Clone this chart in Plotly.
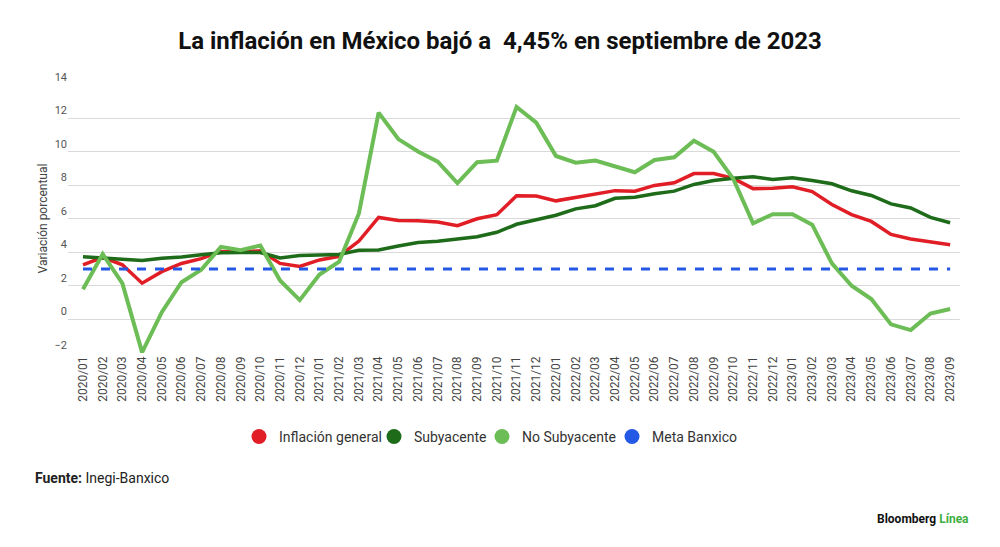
import plotly.graph_objs as go

# meses del periodo 2020/01 - 2023/09
meses = ['%d/%02d' % (a, m) for a in range(2020, 2024) for m in range(1, 13)][:45]

# inflación anual (%)
general = [3.24, 3.70, 3.25, 2.15, 2.84, 3.33, 3.62, 4.05, 4.01, 4.09, 3.33, 3.15,
           3.54, 3.76, 4.67, 6.08, 5.89, 5.88, 5.81, 5.59, 6.00, 6.24, 7.37, 7.36,
           7.07, 7.28, 7.45, 7.68, 7.65, 7.99, 8.15, 8.70, 8.70, 8.41, 7.80, 7.82,
           7.91, 7.62, 6.85, 6.25, 5.84, 5.06, 4.79, 4.64, 4.45]

subyacente = [3.73, 3.66, 3.60, 3.50, 3.64, 3.71, 3.85, 3.97, 3.99, 3.98, 3.66, 3.80,
              3.84, 3.87, 4.12, 4.13, 4.37, 4.58, 4.66, 4.78, 4.92, 5.19, 5.67, 5.94,
              6.21, 6.59, 6.78, 7.22, 7.28, 7.49, 7.65, 8.05, 8.28, 8.42, 8.51, 8.35,
              8.45, 8.29, 8.09, 7.67, 7.39, 6.89, 6.64, 6.08, 5.76]

no_subyacente = [1.79, 3.89, 2.14, -1.98, 0.42, 2.21, 2.95, 4.32, 4.12, 4.40, 2.31, 1.14,
                 2.67, 3.44, 6.32, 12.34, 10.76, 10.02, 9.41, 8.13, 9.38, 9.47, 12.68, 11.74,
                 9.75, 9.35, 9.48, 9.12, 8.78, 9.51, 9.67, 10.66, 10.00, 8.38, 5.73, 6.27,
                 6.27, 5.65, 3.33, 2.00, 1.20, -0.31, -0.65, 0.34, 0.61]

meta_banxico = [3.0] * len(meses)

series = [
    ('Inflación general', general, '#e11d25', 3.5, 'solid'),
    ('Subyacente', subyacente, '#1e6b1a', 3.5, 'solid'),
    ('No Subyacente', no_subyacente, '#6cbd55', 4, 'solid'),
    ('Meta Banxico', meta_banxico, '#2459e6', 3, 'dash'),
]

# posición (en px) del círculo de cada entrada de la leyenda
leyenda_px = [259, 394, 502, 632]

fig = go.Figure()

# líneas
for nombre, valores, color, ancho, estilo in series:
    fig.add_trace(go.Scatter(x=meses, y=valores, mode='lines', name=nombre,
                             line=dict(color=color, width=ancho, dash=estilo),
                             showlegend=False))

# leyenda con círculos, una leyenda por entrada para controlar el espaciado
leyendas = {}
for i, (nombre, valores, color, ancho, estilo) in enumerate(series):
    ley = 'legend' if i == 0 else 'legend%d' % (i + 1)
    fig.add_trace(go.Scatter(x=[None], y=[None], mode='markers', name=nombre,
                             marker=dict(color=color, size=15, symbol='circle'),
                             legend=ley))
    leyendas[ley] = dict(orientation='h', x=(leyenda_px[i] - 20 - 68) / 892.0,
                         xanchor='left', y=-0.312, yanchor='middle',
                         font=dict(size=14, color='#333333'), itemwidth=30,
                         bgcolor='rgba(0,0,0,0)')

fig.update_layout(
    width=1000, height=547,
    paper_bgcolor='white', plot_bgcolor='white',
    margin=dict(l=68, r=40, t=84, b=194),
    font=dict(family='Roboto, Liberation Sans, sans-serif', color='#333333'),
    title=dict(text='<b>La inflación en México bajó a  4,45% en septiembre de 2023</b>',
               x=0.5, xanchor='center', y=0.925, yanchor='middle',
               font=dict(size=24, color='#111111')),
    xaxis=dict(type='category', range=[-0.76, 44.5], tickangle=-90,
               showgrid=False, showline=False, ticks='', zeroline=False,
               tickfont=dict(size=12, color='#444444')),
    yaxis=dict(range=[-2.02, 14.05], tickvals=list(range(-2, 15, 2)),
               showgrid=True, gridcolor='#d9d9d9', gridwidth=1.2, zeroline=False,
               ticks='', ticklabelposition='outside top',
               tickfont=dict(size=11, color='#555555'),
               title=dict(text='Variación porcentual', standoff=4,
                          font=dict(size=12, color='#444444'))),
    **leyendas
)

# fuente y logo
fig.add_annotation(text='<b>Fuente:</b> Inegi-Banxico', xref='paper', yref='paper',
                   x=-0.039, y=-0.464, xanchor='left', yanchor='middle', showarrow=False,
                   font=dict(size=14, color='#222222'))
fig.add_annotation(text="<b>Bloomberg</b> <b><span style='color:#3fae3f'>Línea</span></b>",
                   xref='paper', yref='paper', x=1.012, y=-0.617, xanchor='right',
                   yanchor='middle', showarrow=False,
                   font=dict(size=12, color='#111111'))

# sin margen en la página para que la figura empiece en (0, 0), sin barra de herramientas
fig.write_html('out.html', config={'displayModeBar': False},
               post_script="document.body.style.margin='0';")
